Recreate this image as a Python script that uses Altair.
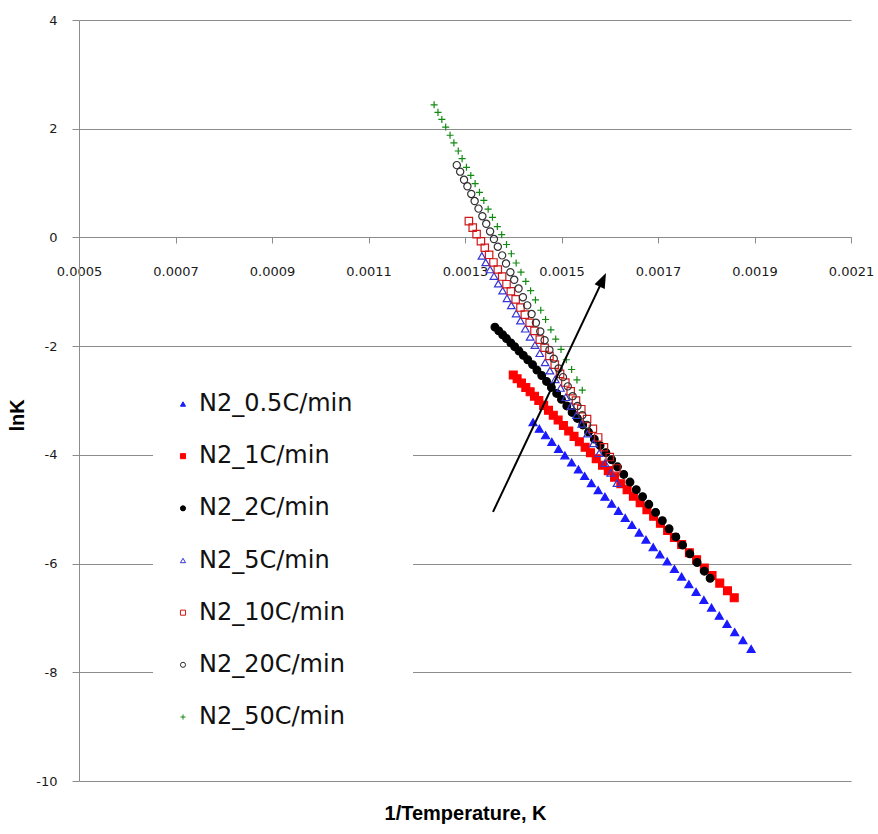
import altair as alt
import pandas as pd

series_names = ["N2_0.5C/min", "N2_1C/min", "N2_2C/min", "N2_5C/min",
                "N2_10C/min", "N2_20C/min", "N2_50C/min"]

# N2_0.5C/min (filled blue triangles)
x_05 = [0.001441, 0.001454, 0.001467, 0.001480, 0.001494, 0.001507, 0.001521, 0.001535,
        0.001548, 0.001562, 0.001576, 0.001590, 0.001604, 0.001618, 0.001632, 0.001646,
        0.001661, 0.001675, 0.001690, 0.001704, 0.001719, 0.001734, 0.001749, 0.001764,
        0.001779, 0.001795, 0.001811, 0.001827, 0.001843, 0.001859, 0.001876, 0.001893]
y_05 = [-3.40, -3.52, -3.64, -3.76, -3.89, -4.01, -4.14, -4.27,
        -4.39, -4.52, -4.65, -4.77, -4.90, -5.03, -5.16, -5.29,
        -5.43, -5.56, -5.70, -5.83, -5.96, -6.10, -6.24, -6.38,
        -6.52, -6.67, -6.81, -6.96, -7.11, -7.26, -7.41, -7.57]

# N2_1C/min (filled red squares)
x_1 = [0.001400, 0.001408, 0.001417, 0.001426, 0.001435, 0.001444, 0.001453, 0.001463,
       0.001473, 0.001483, 0.001493, 0.001504, 0.001515, 0.001526, 0.001537, 0.001549,
       0.001560, 0.001572, 0.001585, 0.001597, 0.001610, 0.001623, 0.001636, 0.001649,
       0.001663, 0.001677, 0.001691, 0.001705, 0.001720, 0.001734, 0.001749, 0.001765,
       0.001780, 0.001796, 0.001812, 0.001828, 0.001844, 0.001858]
y_1 = [-2.53, -2.60, -2.68, -2.76, -2.84, -2.92, -3.00, -3.09,
       -3.18, -3.27, -3.36, -3.46, -3.56, -3.66, -3.76, -3.86,
       -3.96, -4.07, -4.19, -4.29, -4.41, -4.53, -4.64, -4.76,
       -4.88, -5.01, -5.13, -5.26, -5.39, -5.52, -5.65, -5.80,
       -5.93, -6.08, -6.22, -6.36, -6.50, -6.63]

# N2_2C/min (filled black circles)
x_2 = [0.001362, 0.001370, 0.001378, 0.001386, 0.001395, 0.001403, 0.001412, 0.001421,
       0.001430, 0.001440, 0.001449, 0.001459, 0.001469, 0.001479, 0.001490, 0.001500,
       0.001511, 0.001522, 0.001533, 0.001544, 0.001556, 0.001568, 0.001580, 0.001592,
       0.001604, 0.001616, 0.001629, 0.001642, 0.001655, 0.001668, 0.001681, 0.001695,
       0.001709, 0.001723, 0.001737, 0.001751, 0.001766, 0.001781, 0.001796, 0.001808]
y_2 = [-1.65, -1.72, -1.79, -1.86, -1.94, -2.01, -2.09, -2.17,
       -2.25, -2.34, -2.44, -2.54, -2.65, -2.76, -2.87, -2.98,
       -3.10, -3.22, -3.33, -3.45, -3.58, -3.71, -3.83, -3.96,
       -4.09, -4.22, -4.36, -4.50, -4.64, -4.77, -4.91, -5.06,
       -5.21, -5.36, -5.51, -5.66, -5.82, -5.98, -6.14, -6.27]

# N2_5C/min (open blue triangles)
x_5 = [0.001335, 0.001343, 0.001352, 0.001360, 0.001369, 0.001378, 0.001387, 0.001396,
       0.001406, 0.001415, 0.001425, 0.001435, 0.001445, 0.001455, 0.001466, 0.001476,
       0.001487, 0.001498, 0.001509, 0.001520, 0.001531, 0.001542, 0.001554, 0.001566,
       0.001578, 0.001590, 0.001602, 0.001615]
y_5 = [-0.34, -0.46, -0.59, -0.71, -0.85, -0.98, -1.12, -1.25,
       -1.40, -1.53, -1.68, -1.83, -1.98, -2.13, -2.30, -2.45,
       -2.61, -2.77, -2.94, -3.10, -3.27, -3.43, -3.61, -3.79,
       -3.97, -4.15, -4.33, -4.52]

# N2_10C/min (open red squares)
x_10 = [0.001308, 0.001316, 0.001324, 0.001333, 0.001341, 0.001350, 0.001359, 0.001368,
        0.001377, 0.001386, 0.001395, 0.001405, 0.001415, 0.001424, 0.001434, 0.001444,
        0.001455, 0.001465, 0.001475, 0.001486, 0.001497, 0.001508, 0.001519, 0.001530,
        0.001541, 0.001553, 0.001565, 0.001576, 0.001588, 0.001600, 0.001614]
y_10 = [0.30, 0.18, 0.06, -0.07, -0.19, -0.32, -0.46, -0.59,
        -0.72, -0.86, -0.99, -1.14, -1.29, -1.42, -1.57, -1.72,
        -1.88, -2.03, -2.18, -2.34, -2.51, -2.67, -2.83, -3.00,
        -3.16, -3.34, -3.52, -3.68, -3.86, -4.04, -4.25]

# N2_20C/min (open black circles)
x_20 = [0.001283, 0.001290, 0.001298, 0.001305, 0.001313, 0.001320, 0.001328, 0.001336,
        0.001344, 0.001352, 0.001360, 0.001368, 0.001377, 0.001385, 0.001394, 0.001402,
        0.001411, 0.001420, 0.001429, 0.001438, 0.001447, 0.001456, 0.001465, 0.001475,
        0.001484, 0.001494, 0.001503, 0.001513, 0.001523, 0.001533, 0.001543, 0.001553]
y_20 = [1.33, 1.21, 1.06, 0.94, 0.80, 0.67, 0.53, 0.39,
        0.25, 0.11, -0.03, -0.17, -0.33, -0.48, -0.64, -0.78,
        -0.94, -1.10, -1.25, -1.41, -1.57, -1.73, -1.89, -2.07,
        -2.23, -2.41, -2.57, -2.74, -2.92, -3.10, -3.27, -3.45]

# N2_50C/min (green crosses)
x_50 = [0.001236, 0.001244, 0.001252, 0.001260, 0.001269, 0.001277, 0.001286, 0.001294,
        0.001303, 0.001312, 0.001321, 0.001330, 0.001339, 0.001348, 0.001357, 0.001367,
        0.001376, 0.001386, 0.001396, 0.001406, 0.001416, 0.001426, 0.001436, 0.001446,
        0.001457, 0.001467, 0.001478, 0.001488, 0.001499, 0.001510, 0.001521, 0.001532,
        0.001543]
y_50 = [2.44, 2.30, 2.17, 2.03, 1.88, 1.74, 1.59, 1.45,
        1.29, 1.14, 0.99, 0.83, 0.68, 0.52, 0.37, 0.20,
        0.05, -0.13, -0.30, -0.47, -0.64, -0.81, -0.98, -1.15,
        -1.34, -1.51, -1.70, -1.87, -2.06, -2.25, -2.43, -2.62,
        -2.81]

# arrow annotation (shaft start, shaft end / head)
arrow_x = [0.001358, 0.0015856]
arrow_y = [-5.05, -0.78]
arrow_angle = 25

x_ticks = [0.0005, 0.0007, 0.0009, 0.0011, 0.0013, 0.0015, 0.0017, 0.0019, 0.0021]
y_ticks = [-10, -8, -6, -4, -2, 0, 2, 4]

shapes = ["triangle-up", "square", "circle", "triangle-up", "square", "circle", "M-1,0H1M0,-1V1"]
strokes = ["#1a1aff", "#ff0000", "#000000", "#3535d8", "#d01818", "#303030", "#128a12"]
fills = ["#1a1aff", "#ff0000", "#000000", "transparent", "transparent", "transparent", "transparent"]
sizes = [64, 50, 38, 54, 46, 38, 49]

xs = [x_05, x_1, x_2, x_5, x_10, x_20, x_50]
ys = [y_05, y_1, y_2, y_5, y_10, y_20, y_50]
rows = []
for name, xv, yv in zip(series_names, xs, ys):
    for a, b in zip(xv, yv):
        rows.append({"series": name, "x": a, "y": b})
df = pd.DataFrame(rows)

arrow_df = pd.DataFrame({"x": arrow_x, "y": arrow_y})
head_df = arrow_df.iloc[[1]]
legend_df = pd.DataFrame({"series": series_names})
box_df = pd.DataFrame({"k": [0]})

GRID = "#8c8c8c"

x_axis = alt.Axis(values=x_ticks, labelExpr="format(datum.value, '.4f')", orient="bottom",
                  offset=-544, grid=False, tickSize=6, tickColor=GRID, domainColor=GRID,
                  labelPadding=22, labelFont="DejaVu Sans", labelFontSize=13, labelColor="#1a1a1a",
                  labelFlush=False, labelOverlap=False,
                  title="1/Temperature, K", titleFont="Liberation Sans", titleFontSize=20,
                  titleFontWeight="bold", titleColor="#000000", titleX=386, titleY=576,
                  titleBaseline="middle", titleAlign="center")
y_axis = alt.Axis(values=y_ticks, labelExpr="'' + datum.value", grid=True, gridColor=GRID,
                  gridWidth=1, tickSize=7, tickColor=GRID, domainColor=GRID, labelPadding=15,
                  labelFont="DejaVu Sans", labelFontSize=13, labelColor="#1a1a1a",
                  title="lnK", titleFont="Liberation Sans", titleFontSize=20,
                  titleFontWeight="bold", titleColor="#000000", titleX=-62, titleY=395,
                  titleAngle=270, titleBaseline="middle", titleAlign="center")

x_scale = alt.Scale(domain=[0.0005, 0.0021], nice=False, zero=False)
y_scale = alt.Scale(domain=[-10, 4], nice=False, zero=False)

shape_scale = alt.Scale(domain=series_names, range=shapes)
stroke_scale = alt.Scale(domain=series_names, range=strokes)
fill_scale = alt.Scale(domain=series_names, range=fills)

points = alt.Chart(df).mark_point(strokeWidth=1.2, opacity=1).encode(
    x=alt.X("x:Q", scale=x_scale, axis=x_axis),
    y=alt.Y("y:Q", scale=y_scale, axis=y_axis),
    shape=alt.Shape("series:N", scale=shape_scale, legend=None),
    stroke=alt.Stroke("series:N", scale=stroke_scale, legend=None),
    fill=alt.Fill("series:N", scale=fill_scale, legend=None),
    size=alt.Size("series:N", scale=alt.Scale(domain=series_names, range=sizes), legend=None),
)

arrow_line = alt.Chart(arrow_df).mark_line(color="black", strokeWidth=2).encode(
    x=alt.X("x:Q", scale=x_scale, axis=x_axis),
    y=alt.Y("y:Q", scale=y_scale, axis=None),
)
arrow_head = alt.Chart(head_df).mark_point(
    shape="M0,-1L0.75,1L-0.75,1Z", size=225, filled=True, color="black", opacity=1,
    angle=arrow_angle, strokeWidth=0
).encode(
    x=alt.X("x:Q", scale=x_scale, axis=x_axis),
    y=alt.Y("y:Q", scale=y_scale, axis=None),
)

# legend (drawn inside the plot, white box hides the gridlines behind it)
legend_y = alt.Y("series:N",
                 scale=alt.Scale(type="point", domain=series_names, range=[384, 697], padding=0),
                 axis=None)
legend_box = alt.Chart(box_df).mark_rect(color="white").encode(
    x=alt.value(74), x2=alt.value(334), y=alt.value(350), y2=alt.value(728)
)
legend_symbols = alt.Chart(legend_df).mark_point(strokeWidth=1, opacity=1, size=26).encode(
    x=alt.value(104),
    y=legend_y,
    shape=alt.Shape("series:N", scale=shape_scale, legend=None),
    stroke=alt.Stroke("series:N", scale=stroke_scale, legend=None),
    fill=alt.Fill("series:N", scale=fill_scale, legend=None),
)
legend_labels = alt.Chart(legend_df).mark_text(
    align="left", baseline="middle", font="DejaVu Sans", fontSize=24, color="#111111"
).encode(
    x=alt.value(120),
    y=legend_y,
    text="series:N",
)

chart = alt.layer(legend_box, points, arrow_line, arrow_head, legend_symbols, legend_labels).resolve_scale(
    y="independent"
).properties(
    width=772, height=761,
    autosize=alt.AutoSizeParams(type="none"),
    padding={"left": 79, "top": 20, "right": 27, "bottom": 53},
    background="white",
).configure_view(stroke=None)

chart.save("out.html", embed_options={"renderer": "svg", "actions": False})
